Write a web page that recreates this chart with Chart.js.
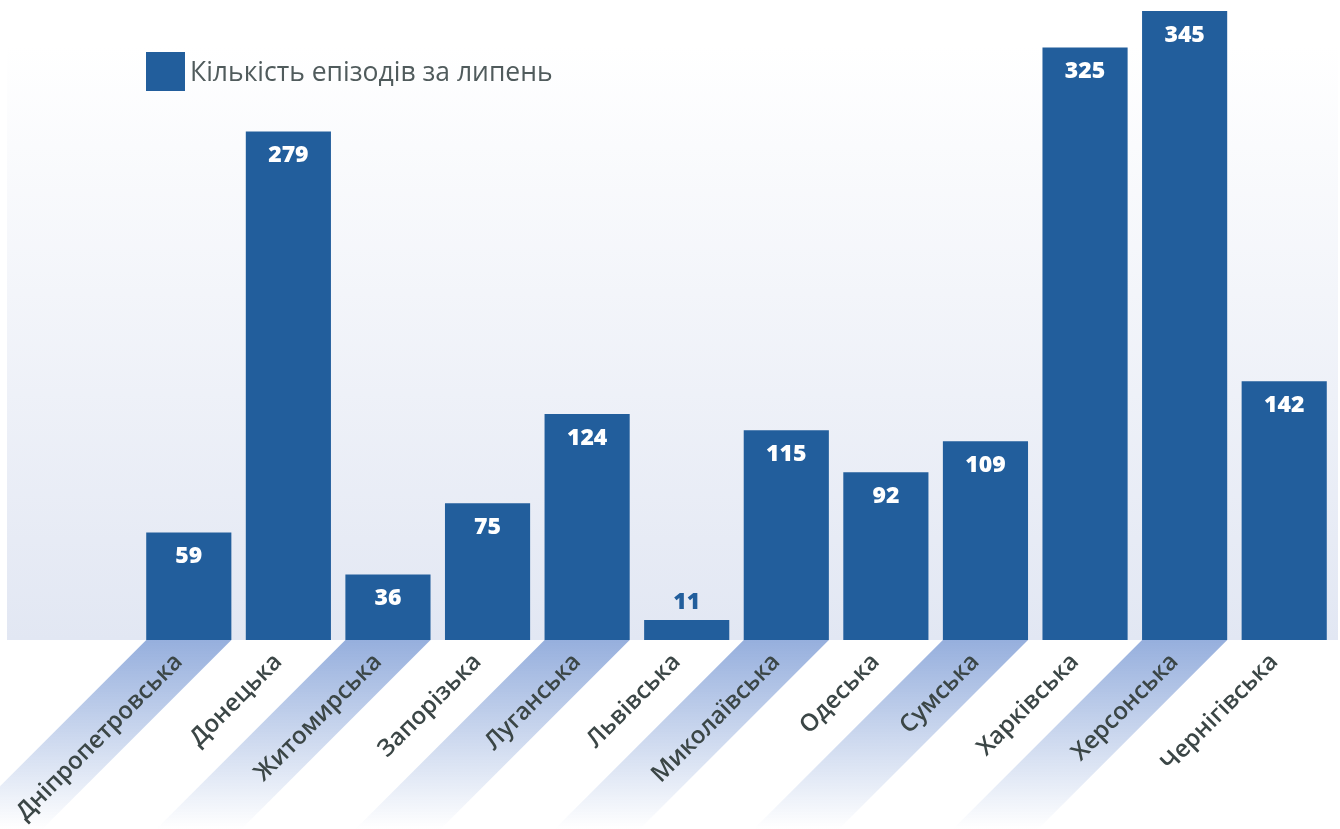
<!DOCTYPE html>
<html lang="uk">
<head>
    <meta charset="UTF-8">
    <title>Кількість епізодів за липень</title>
    <script src="https://cdn.jsdelivr.net/npm/chart.js"></script>
    <style>
        body { margin: 0; background: #fff; }
        #wrap { width: 1340px; height: 829px; }
    </style>
</head>
<body>
    <div id="wrap"><canvas id="episodesChart"></canvas></div>

    <script>
        // Дані
        const regions = ['Дніпропетровська', 'Донецька', 'Житомирська', 'Запорізька', 'Луганська', 'Львівська',
            'Миколаївська', 'Одеська', 'Сумська', 'Харківська', 'Херсонська', 'Чернігівська'];
        const episodes = [59, 279, 36, 75, 124, 11, 115, 92, 109, 325, 345, 142];
        const seriesLabel = 'Кількість епізодів за липень';

        const barColor = '#225e9c';

        // фон, діагональні смуги під підписами, легенда
        const decor = {
            id: 'decor',
            beforeDraw(chart) {
                const { ctx, chartArea } = chart;
                const g = ctx.createLinearGradient(0, 46, 0, chartArea.bottom);
                g.addColorStop(0, 'rgba(255,255,255,1)');
                g.addColorStop(1, 'rgba(226,231,243,1)');
                ctx.save();
                ctx.fillStyle = g;
                ctx.fillRect(7, 46, chartArea.right + 4 - 7, chartArea.bottom - 46);

                const meta = chart.getDatasetMeta(0);
                const len = chart.height - chartArea.bottom;
                meta.data.forEach((bar, i) => {
                    if (i % 2) return;
                    const xl = bar.x - bar.width / 2, xr = bar.x + bar.width / 2, y0 = chartArea.bottom;
                    const sg = ctx.createLinearGradient(0, y0, 0, y0 + len);
                    sg.addColorStop(0, 'rgba(150,175,221,1)');
                    sg.addColorStop(1, 'rgba(150,175,221,0)');
                    ctx.fillStyle = sg;
                    ctx.beginPath();
                    ctx.moveTo(xl, y0);
                    ctx.lineTo(xr, y0);
                    ctx.lineTo(xr - len, y0 + len);
                    ctx.lineTo(xl - len, y0 + len);
                    ctx.closePath();
                    ctx.fill();
                });

                // легенда
                ctx.fillStyle = barColor;
                ctx.fillRect(146, 52, 39, 39);
                ctx.fillStyle = '#505b5c';
                ctx.font = '26.5px "Open Sans"';
                ctx.textBaseline = 'middle';
                ctx.textAlign = 'left';
                ctx.fillText(seriesLabel, 190, 73);
                ctx.restore();
            },
            afterDatasetsDraw(chart) {
                const { ctx } = chart;
                const meta = chart.getDatasetMeta(0);
                ctx.save();
                ctx.font = '800 23px "Open Sans"';
                ctx.textAlign = 'center';
                ctx.textBaseline = 'middle';
                meta.data.forEach((bar, i) => {
                    const h = bar.base - bar.y;
                    if (h > 40) {
                        ctx.fillStyle = '#ffffff';
                        ctx.fillText(episodes[i], bar.x, bar.y + 24);
                    } else {
                        ctx.fillStyle = barColor;
                        ctx.fillText(episodes[i], bar.x, bar.y - 17);
                    }
                });
                ctx.restore();
            }
        };

        const ctx = document.getElementById('episodesChart').getContext('2d');
        const episodesChart = new Chart(ctx, {
            type: 'bar',
            data: {
                labels: regions,
                datasets: [{
                    label: seriesLabel,
                    data: episodes,
                    backgroundColor: barColor,
                    borderWidth: 0,
                    categoryPercentage: 1,
                    barPercentage: 0.855
                }]
            },
            options: {
                responsive: true,
                maintainAspectRatio: false,
                animation: false,
                layout: { padding: { left: 139, right: 6, top: 2, bottom: 0 } },
                plugins: {
                    legend: { display: false },
                    tooltip: { enabled: false }
                },
                scales: {
                    x: {
                        grid: { display: false },
                        border: { display: false },
                        ticks: {
                            color: '#3b4646',
                            font: { family: '"Open Sans"', size: 24, weight: '600' },
                            minRotation: 45,
                            maxRotation: 45,
                            autoSkip: false,
                            padding: 0,
                            labelOffset: -10
                        },
                        afterFit(scale) { scale.height = 189; }
                    },
                    y: {
                        display: false,
                        min: 0,
                        max: 350
                    }
                }
            },
            plugins: [decor]
        });
    </script>
</body>
</html>
